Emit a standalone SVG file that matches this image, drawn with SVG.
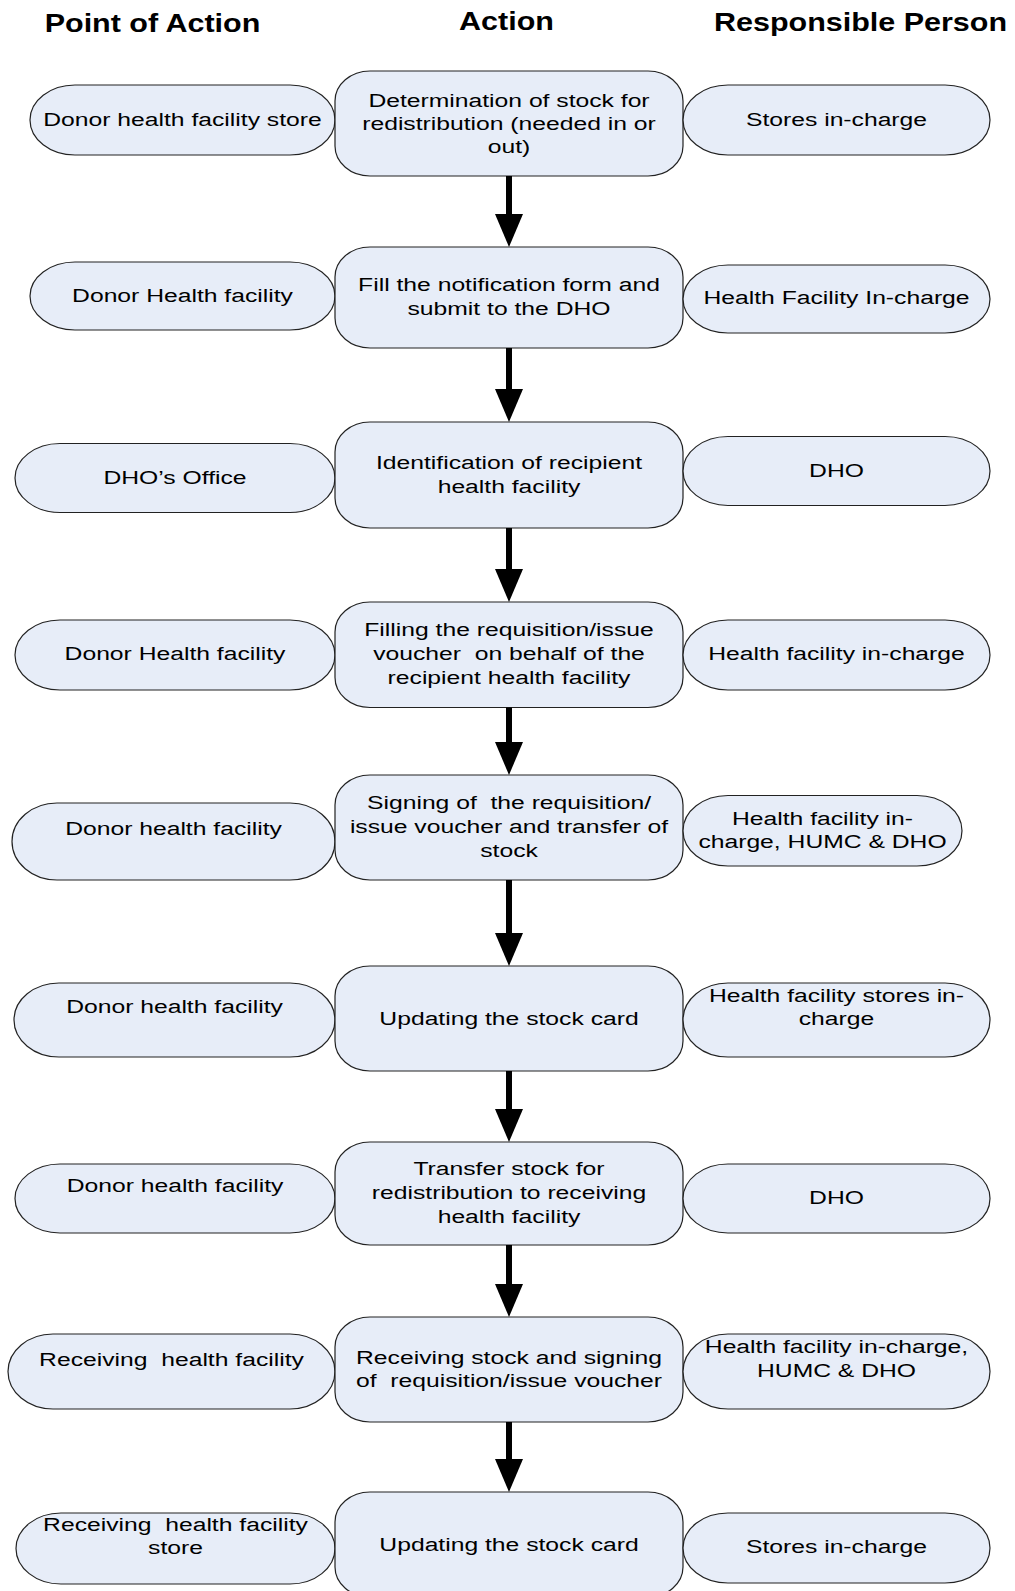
<svg xmlns="http://www.w3.org/2000/svg" width="1015" height="1591" viewBox="0 0 1015 1591">
<defs>
<style>
.n{fill:#e7edf8;stroke:#222;stroke-width:1.2}
.t{font-family:"Liberation Sans",Arial,sans-serif;font-size:19px;fill:#000;text-anchor:middle}
.h{font-family:"Liberation Sans",Arial,sans-serif;font-size:25px;font-weight:bold;fill:#000;text-anchor:middle}
.a{stroke:#000;stroke-width:6;fill:none;marker-end:url(#ah)}
</style>
<marker id="ah" markerUnits="userSpaceOnUse" viewBox="0 0 33 28" markerWidth="33" markerHeight="28" refX="3" refY="14" orient="auto">
<path d="M0,0 L33,14 L0,28 Z" fill="#000"/>
</marker>
</defs>
<rect width="1015" height="1591" fill="#fff"/>
<g id="headers">
<text class="h" transform="matrix(1.22 0 0 1 152.5 32)">Point of Action</text>
<text class="h" transform="matrix(1.22 0 0 1 506.5 29.5)">Action</text>
<text class="h" transform="matrix(1.22 0 0 1 860.5 30.5)">Responsible Person</text>
</g>
<g id="row1">
<g id="r1-point"><rect class="n" x="30" y="85" width="305" height="70" rx="45" ry="40"/><text class="t" transform="matrix(1.3 0 0 1 182.5 126)">Donor health facility store</text></g>
<g id="r1-action"><rect class="n" x="335" y="71" width="348" height="105" rx="35" ry="30"/><text class="t" transform="matrix(1.3 0 0 1 509 107)">Determination of stock for</text><text class="t" transform="matrix(1.3 0 0 1 509 130)">redistribution (needed in or</text><text class="t" transform="matrix(1.3 0 0 1 509 152.5)">out)</text></g>
<g id="r1-person"><rect class="n" x="683" y="85" width="307" height="70" rx="45" ry="40"/><text class="t" transform="matrix(1.3 0 0 1 836.5 126)">Stores in-charge</text></g>
</g>
<g id="row2">
<g id="r2-point"><rect class="n" x="30" y="262" width="305" height="68" rx="45" ry="40"/><text class="t" transform="matrix(1.3 0 0 1 182.5 302)">Donor Health facility</text></g>
<g id="r2-action"><rect class="n" x="335" y="247" width="348" height="101" rx="35" ry="30"/><text class="t" transform="matrix(1.3 0 0 1 509 291)">Fill the notification form and</text><text class="t" transform="matrix(1.3 0 0 1 509 314.5)">submit to the DHO</text></g>
<g id="r2-person"><rect class="n" x="683" y="265" width="307" height="68" rx="45" ry="40"/><text class="t" transform="matrix(1.3 0 0 1 836.5 304)">Health Facility In-charge</text></g>
</g>
<g id="row3">
<g id="r3-point"><rect class="n" x="15" y="443.5" width="320" height="69" rx="45" ry="40"/><text class="t" transform="matrix(1.3 0 0 1 175 484)">DHO’s Office</text></g>
<g id="r3-action"><rect class="n" x="335" y="422" width="348" height="106" rx="35" ry="30"/><text class="t" transform="matrix(1.3 0 0 1 509 468.5)">Identification of recipient</text><text class="t" transform="matrix(1.3 0 0 1 509 492.5)">health facility</text></g>
<g id="r3-person"><rect class="n" x="683" y="436.5" width="307" height="69" rx="45" ry="40"/><text class="t" transform="matrix(1.3 0 0 1 836.5 477)">DHO</text></g>
</g>
<g id="row4">
<g id="r4-point"><rect class="n" x="15" y="620" width="320" height="70" rx="45" ry="40"/><text class="t" transform="matrix(1.3 0 0 1 175 660)">Donor Health facility</text></g>
<g id="r4-action"><rect class="n" x="335" y="602" width="348" height="105.5" rx="35" ry="30"/><text class="t" transform="matrix(1.3 0 0 1 509 636)">Filling the requisition/issue</text><text class="t" xml:space="preserve" transform="matrix(1.3 0 0 1 509 660)">voucher  on behalf of the</text><text class="t" transform="matrix(1.3 0 0 1 509 683.5)">recipient health facility</text></g>
<g id="r4-person"><rect class="n" x="683" y="620" width="307" height="70" rx="45" ry="40"/><text class="t" transform="matrix(1.3 0 0 1 836.5 660)">Health facility in-charge</text></g>
</g>
<g id="row5">
<g id="r5-point"><rect class="n" x="12" y="803" width="323" height="77" rx="45" ry="40"/><text class="t" transform="matrix(1.3 0 0 1 173.5 835)">Donor health facility</text></g>
<g id="r5-action"><rect class="n" x="335" y="775" width="348" height="105" rx="35" ry="30"/><text class="t" xml:space="preserve" transform="matrix(1.3 0 0 1 509 809)">Signing of  the requisition/</text><text class="t" transform="matrix(1.3 0 0 1 509 833)">issue voucher and transfer of</text><text class="t" transform="matrix(1.3 0 0 1 509 857)">stock</text></g>
<g id="r5-person"><rect class="n" x="683" y="795.5" width="279" height="70.5" rx="45" ry="40"/><text class="t" transform="matrix(1.3 0 0 1 822.5 825)">Health facility in-</text><text class="t" transform="matrix(1.3 0 0 1 822.5 848)">charge, HUMC &amp; DHO</text></g>
</g>
<g id="row6">
<g id="r6-point"><rect class="n" x="14" y="983" width="321" height="74" rx="45" ry="40"/><text class="t" transform="matrix(1.3 0 0 1 174.5 1013)">Donor health facility</text></g>
<g id="r6-action"><rect class="n" x="335" y="966" width="348" height="105" rx="35" ry="30"/><text class="t" transform="matrix(1.3 0 0 1 509 1025)">Updating the stock card</text></g>
<g id="r6-person"><rect class="n" x="683" y="983" width="307" height="74" rx="45" ry="40"/><text class="t" transform="matrix(1.3 0 0 1 836.5 1002)">Health facility stores in-</text><text class="t" transform="matrix(1.3 0 0 1 836.5 1025)">charge</text></g>
</g>
<g id="row7">
<g id="r7-point"><rect class="n" x="15" y="1164" width="320" height="69" rx="45" ry="40"/><text class="t" transform="matrix(1.3 0 0 1 175 1192)">Donor health facility</text></g>
<g id="r7-action"><rect class="n" x="335" y="1142" width="348" height="103" rx="35" ry="30"/><text class="t" transform="matrix(1.3 0 0 1 509 1175)">Transfer stock for</text><text class="t" transform="matrix(1.3 0 0 1 509 1199)">redistribution to receiving</text><text class="t" transform="matrix(1.3 0 0 1 509 1222.5)">health facility</text></g>
<g id="r7-person"><rect class="n" x="683" y="1164" width="307" height="69" rx="45" ry="40"/><text class="t" transform="matrix(1.3 0 0 1 836.5 1203.5)">DHO</text></g>
</g>
<g id="row8">
<g id="r8-point"><rect class="n" x="8" y="1334" width="327" height="75" rx="45" ry="40"/><text class="t" xml:space="preserve" transform="matrix(1.3 0 0 1 171.5 1366)">Receiving  health facility</text></g>
<g id="r8-action"><rect class="n" x="335" y="1317" width="348" height="105" rx="35" ry="30"/><text class="t" transform="matrix(1.3 0 0 1 509 1363.5)">Receiving stock and signing</text><text class="t" xml:space="preserve" transform="matrix(1.3 0 0 1 509 1387)">of  requisition/issue voucher</text></g>
<g id="r8-person"><rect class="n" x="683" y="1334" width="307" height="75" rx="45" ry="40"/><text class="t" transform="matrix(1.3 0 0 1 836.5 1353)">Health facility in-charge,</text><text class="t" transform="matrix(1.3 0 0 1 836.5 1377)">HUMC &amp; DHO</text></g>
</g>
<g id="row9">
<g id="r9-point"><rect class="n" x="16" y="1513" width="319" height="71" rx="45" ry="40"/><text class="t" xml:space="preserve" transform="matrix(1.3 0 0 1 175.5 1531)">Receiving  health facility</text><text class="t" transform="matrix(1.3 0 0 1 175.5 1554)">store</text></g>
<g id="r9-action"><rect class="n" x="335" y="1492" width="348" height="105" rx="35" ry="30"/><text class="t" transform="matrix(1.3 0 0 1 509 1551)">Updating the stock card</text></g>
<g id="r9-person"><rect class="n" x="683" y="1513" width="307" height="70" rx="45" ry="40"/><text class="t" transform="matrix(1.3 0 0 1 836.5 1553)">Stores in-charge</text></g>
</g>
<g id="connectors">
<line class="a" x1="509" y1="176" x2="509" y2="217"/>
<line class="a" x1="509" y1="348" x2="509" y2="392"/>
<line class="a" x1="509" y1="528" x2="509" y2="572"/>
<line class="a" x1="509" y1="707.5" x2="509" y2="745"/>
<line class="a" x1="509" y1="880" x2="509" y2="936"/>
<line class="a" x1="509" y1="1071" x2="509" y2="1112"/>
<line class="a" x1="509" y1="1245" x2="509" y2="1287"/>
<line class="a" x1="509" y1="1422" x2="509" y2="1462"/>
</g>
</svg>
